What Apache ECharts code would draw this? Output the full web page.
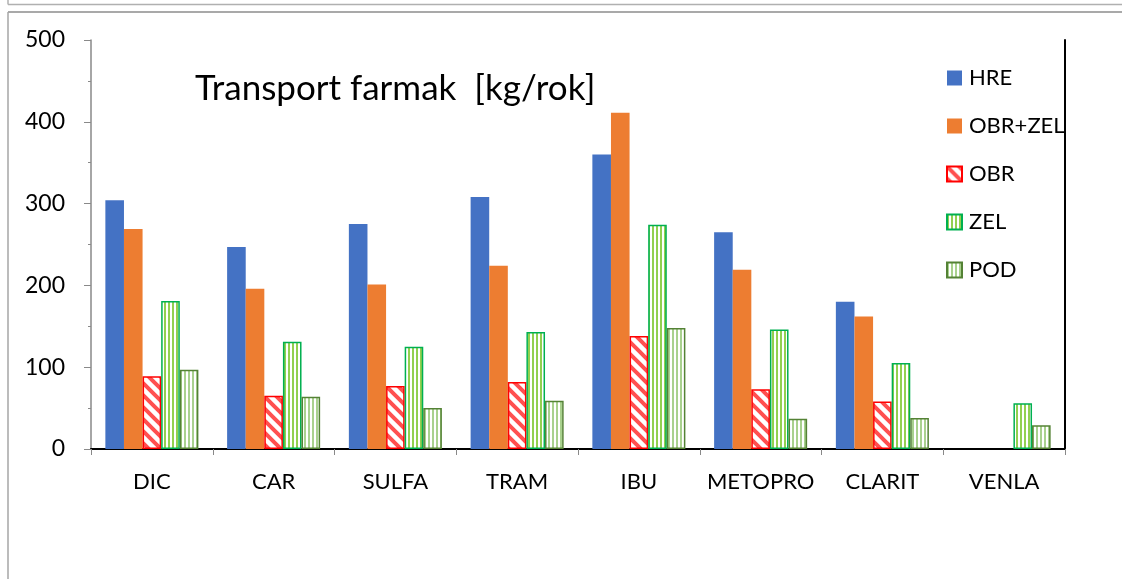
<!DOCTYPE html>
<html>
<head>
<meta charset="utf-8">
<script src="https://cdn.jsdelivr.net/npm/echarts@6/dist/echarts.min.js"></script>
<style>
html,body{margin:0;padding:0;background:#fff;}
#chart{width:1122px;height:579px;}
</style>
</head>
<body>
<div id="chart"></div>
<script>
const categories = ['DIC', 'CAR', 'SULFA', 'TRAM', 'IBU', 'METOPRO', 'CLARIT', 'VENLA'];
const seriesNames = ['HRE', 'OBR+ZEL', 'OBR', 'ZEL', 'POD'];
const HRE = [304, 247, 275, 308, 360, 265, 180, null];
const OBR_ZEL = [269, 196, 201, 224, 411, 219, 162, null];
const OBR = [89, 65, 77, 82, 138, 73, 58, null];
const ZEL = [181, 131, 125, 143, 274, 146, 105, 56];
const POD = [97, 64, 50, 59, 148, 37, 38, 29];
const yTicks = [0, 100, 200, 300, 400, 500];

function diagPattern(color) {
  const s = 12;
  const c = document.createElement('canvas');
  c.width = s; c.height = s;
  const g = c.getContext('2d');
  g.fillStyle = '#fff'; g.fillRect(0, 0, s, s);
  g.strokeStyle = color; g.lineWidth = 4;
  g.beginPath();
  g.moveTo(-2, -2); g.lineTo(s + 2, s + 2);
  g.moveTo(-2 - s, -2); g.lineTo(2, s + 2);
  g.moveTo(s - 2, -2); g.lineTo(2 * s + 2, s + 2);
  g.stroke();
  return {image: c, repeat: 'repeat'};
}
function vertPattern(color) {
  const c = document.createElement('canvas');
  c.width = 4; c.height = 4;
  const g = c.getContext('2d');
  g.fillStyle = '#fff'; g.fillRect(0, 0, 4, 4);
  g.fillStyle = color; g.fillRect(0, 0, 2, 4);
  return {image: c, repeat: 'repeat'};
}

const FONT = 'Lato, "Noto Sans", sans-serif';
const chart = echarts.init(document.getElementById('chart'), null, {renderer: 'canvas'});

const styles = [
  {color: '#4472c4'},
  {color: '#ed7d31'},
  {color: diagPattern('#ff5050'), borderColor: '#ff0000', borderWidth: 1.5},
  {color: vertPattern('#92d050'), borderColor: '#00b050', borderWidth: 1.5},
  {color: vertPattern('#a9d18e'), borderColor: '#548235', borderWidth: 1.5}
];
const datas = [HRE, OBR_ZEL, OBR, ZEL, POD];

chart.setOption({
  animation: false,
  backgroundColor: '#fff',
  title: {
    text: 'Transport farmak  [kg/rok]',
    left: 190, top: 66,
    textStyle: {fontFamily: FONT, fontSize: 35, fontWeight: 'normal', color: '#000'}
  },
  legend: {
    orient: 'vertical',
    left: 941, top: 62,
    itemWidth: 15, itemHeight: 15, itemGap: 26,
    icon: 'rect',
    textStyle: {fontFamily: FONT, fontSize: 22, color: '#000', padding: [0, 0, 0, 2]},
    data: seriesNames
  },
  graphic: [
    {type: 'line', shape: {x1: 8, y1: 0, x2: 8, y2: 4.5}, style: {stroke: '#b0b0b0', lineWidth: 1.5}},
    {type: 'line', shape: {x1: 8, y1: 4.5, x2: 1122, y2: 4.5}, style: {stroke: '#b0b0b0', lineWidth: 1.5}},
    {type: 'line', shape: {x1: 8, y1: 12, x2: 1122, y2: 12}, style: {stroke: '#8c8c8c', lineWidth: 1.5}},
    {type: 'line', shape: {x1: 8, y1: 12, x2: 8, y2: 579}, style: {stroke: '#a6a6a6', lineWidth: 1.5}}
  ],
  grid: {left: 91, top: 40, right: 57, bottom: 130, containLabel: false},
  xAxis: [{
    type: 'category',
    data: categories,
    axisLine: {lineStyle: {color: '#898989', width: 1.5}},
    axisTick: {show: true, interval: 0, alignWithLabel: false, length: 6, lineStyle: {color: '#898989'}},
    axisLabel: {interval: 0, fontFamily: FONT, fontSize: 22, color: '#000', margin: 22}
  }, {
    type: 'category',
    position: 'top',
    data: categories,
    axisLine: {lineStyle: {color: '#000', width: 2}},
    axisTick: {show: false},
    axisLabel: {show: false}
  }],
  yAxis: [{
    type: 'value',
    min: 0, max: 500, interval: 100,
    splitLine: {show: false},
    axisLine: {show: true, lineStyle: {color: '#898989', width: 1.5}},
    axisTick: {show: true, length: 7, lineStyle: {color: '#898989'}},
    minorTick: {show: true, splitNumber: 2, length: 3, lineStyle: {color: '#898989'}},
    axisLabel: {fontFamily: FONT, fontSize: 23, color: '#000', margin: 26,
      formatter: v => yTicks.includes(v) ? String(v) : ''}
  }, {
    type: 'value',
    position: 'right',
    min: 0, max: 500, interval: 100,
    splitLine: {show: false},
    axisLine: {show: true, lineStyle: {color: '#000', width: 2}},
    axisTick: {show: false},
    axisLabel: {show: false}
  }],
  series: seriesNames.map((n, i) => ({
    name: n,
    type: 'bar',
    data: datas[i],
    barGap: '0%',
    barCategoryGap: '23.6%',
    itemStyle: styles[i]
  }))
});
</script>
</body>
</html>
